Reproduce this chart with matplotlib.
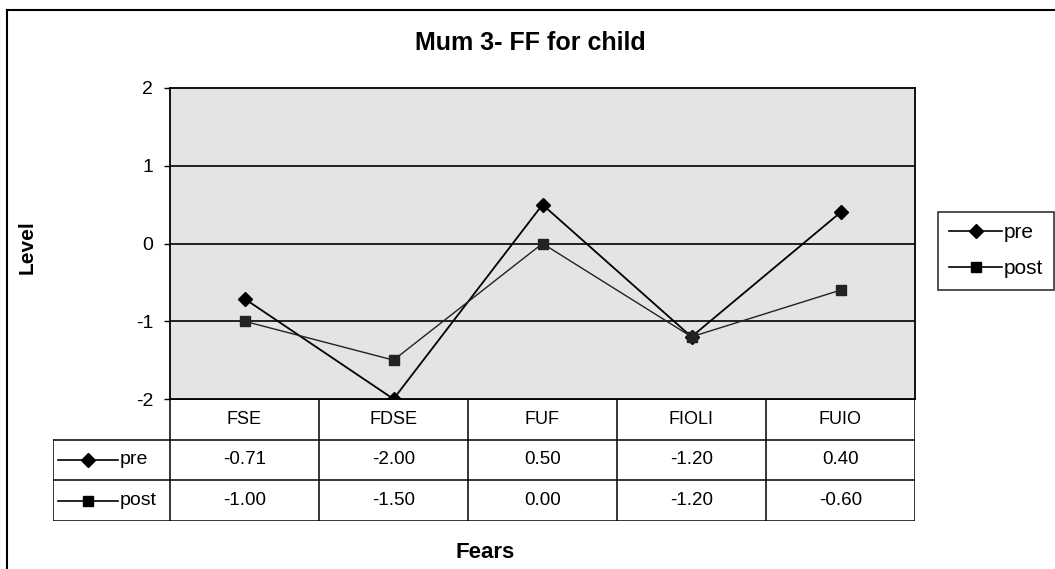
import numpy as np
import matplotlib
matplotlib.use('Agg')
import matplotlib.pyplot as plt
from matplotlib.lines import Line2D

plt.rcParams['font.family'] = ['Liberation Sans', 'DejaVu Sans']
plt.rcParams['axes.unicode_minus'] = False

fears = ['FSE', 'FDSE', 'FUF', 'FIOLI', 'FUIO']
pre = [-0.71, -2.00, 0.50, -1.20, 0.40]
post = [-1.00, -1.50, 0.00, -1.20, -0.60]
series = ['pre', 'post']
markers = {'pre': 'D', 'post': 's'}
msize = {'pre': 7, 'post': 7}

W, H = 1055.0, 569.0
fig = plt.figure(figsize=(10.55, 5.69), dpi=100)

# pixel helpers
def fx(px):
    return px / W
def fy(py):
    return 1 - py / H

x = np.arange(len(fears))

# plot area
ax = fig.add_axes([fx(170), fy(399), fx(915) - fx(170), fy(88) - fy(399)])
ax.set_facecolor('#e4e4e4')
ax.plot(x, pre, color='black', lw=1.3, marker=markers['pre'], ms=msize['pre'], label='pre', zorder=3)
ax.plot(x, post, color='#222222', lw=1.0, marker=markers['post'], ms=msize['post'], label='post', zorder=3)
ax.set_xlim(-0.5, len(fears) - 0.5)
ax.set_ylim(-2, 2)
ax.set_yticks([-2, -1, 0, 1, 2])
ax.set_xticks([])
for yv in [-1, 0, 1]:
    ax.axhline(yv, color='black', lw=1.2, zorder=1)
for s in ax.spines.values():
    s.set_color('black')
    s.set_linewidth(1.3)
ax.tick_params(axis='y', direction='out', length=4, width=1, labelsize=14, pad=8)

# data table under the plot
tx0 = 53
tab = fig.add_axes([fx(tx0), fy(521), fx(915) - fx(tx0), fy(399) - fy(521)])
left = -0.5 - (170 - tx0) / 149.0
tab.set_xlim(left, len(fears) - 0.5)
tab.set_ylim(3, 0)
tab.axis('off')
lk = dict(color='black', lw=1.1)
tab.plot([-0.5, len(fears) - 0.5], [0, 0], **lk)
for r in [1, 2, 3]:
    tab.plot([left, len(fears) - 0.5], [r, r], **lk)
for c in np.arange(-0.5, len(fears)):
    tab.plot([c, c], [0, 3], **lk)
tab.plot([left, left], [1, 3], **lk)
for i, f in enumerate(fears):
    tab.text(i, 0.5, f, ha='center', va='center', fontsize=13)
for r, (name, vals) in enumerate(zip(series, [pre, post])):
    for i, v in enumerate(vals):
        tab.text(i, r + 1.5, '%.2f' % v, ha='center', va='center', fontsize=13.5)
    kx0 = left + (58 - tx0) / 149.0
    kx1 = left + (118 - tx0) / 149.0
    tab.plot([kx0, kx1], [r + 1.5, r + 1.5], color='black', lw=1.2)
    tab.plot([(kx0 + kx1) / 2], [r + 1.5], color='black', marker=markers[name], ms=msize[name], ls='none')
    tab.text(kx1 + 0.01, r + 1.5, name, ha='left', va='center', fontsize=14)

# legend on the right
handles = [Line2D([], [], color='black', lw=1.2, marker=markers[n], ms=msize[n]) for n in series]
leg = fig.legend(handles, series, loc='upper left', bbox_to_anchor=(fx(938), fy(212)),
                 borderaxespad=0, fontsize=15, frameon=True, fancybox=False,
                 handlelength=2.5, handletextpad=0.1, labelspacing=0.8,
                 borderpad=0.55, edgecolor='black')
leg.get_frame().set_linewidth(1.2)

fig.text(fx(530), fy(43), 'Mum 3- FF for child', ha='center', va='center', fontsize=18, fontweight='bold')
fig.text(fx(485), fy(552), 'Fears', ha='center', va='center', fontsize=16, fontweight='bold')
fig.text(fx(27), fy(247), 'Level', ha='center', va='center', rotation=90, fontsize=15, fontweight='bold')

# chart border (top and left visible)
fig.add_artist(Line2D([fx(7), 1], [fy(10), fy(10)], color='black', lw=1.5))
fig.add_artist(Line2D([fx(7), fx(7)], [fy(10), 0], color='black', lw=1.5))

fig.savefig('out.png', dpi=100)
